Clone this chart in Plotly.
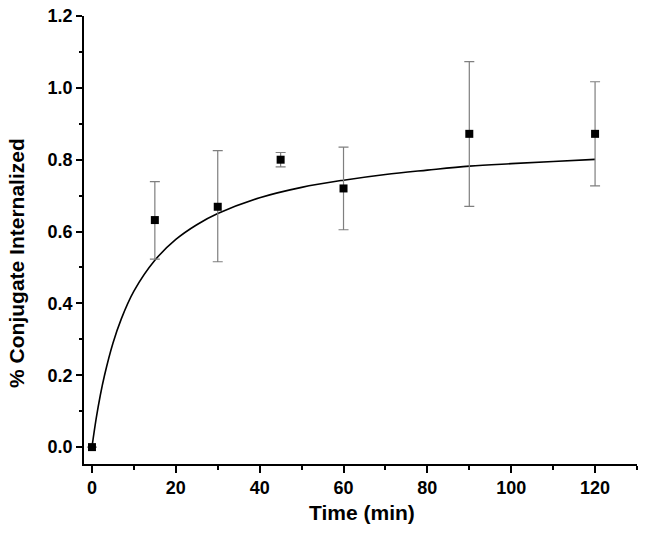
import plotly.graph_objects as go

# Measured data
time_min = [0, 15, 30, 45, 60, 90, 120]
internalized = [0.0, 0.632, 0.669, 0.800, 0.720, 0.872, 0.872]
err_plus = [0.0, 0.107, 0.156, 0.020, 0.115, 0.201, 0.145]
err_minus = [0.0, 0.109, 0.153, 0.020, 0.115, 0.202, 0.145]

# Fitted curve
fit_x = [0, 1, 2, 3, 5, 7, 10, 15, 20, 25, 30, 40, 50, 60, 70, 80, 90, 100, 110, 120]
fit_y = [0.0, 0.079, 0.145, 0.200, 0.289, 0.357, 0.434, 0.520, 0.578, 0.619, 0.650,
         0.694, 0.723, 0.743, 0.759, 0.771, 0.782, 0.789, 0.795, 0.801]

x_ticks = [0, 20, 40, 60, 80, 100, 120]
y_ticks = [0.0, 0.2, 0.4, 0.6, 0.8, 1.0, 1.2]
y_tick_labels = ["0.0", "0.2", "0.4", "0.6", "0.8", "1.0", "1.2"]

FAM = "Liberation Sans, Arial, sans-serif"

fig = go.Figure()
fig.add_trace(go.Scatter(
    x=fit_x, y=fit_y, mode="lines", line=dict(color="black", width=1.6, shape="spline"),
    showlegend=False, hoverinfo="skip"))
fig.add_trace(go.Scatter(
    x=time_min, y=internalized, mode="markers",
    marker=dict(symbol="square", size=8, color="black"),
    error_y=dict(type="data", symmetric=False, array=err_plus, arrayminus=err_minus,
                 color="#7f7f7f", thickness=1.2, width=5),
    showlegend=False))

fig.update_layout(
    width=648, height=535,
    margin=dict(l=84, r=11, t=16, b=71),
    paper_bgcolor="white", plot_bgcolor="white",
    font=dict(family=FAM, color="black"),
    xaxis=dict(
        automargin=False,
        range=[-1.9, 130], tickvals=x_ticks, ticks="outside", ticklen=7, tickwidth=1.5,
        tickcolor="black", showline=True, linecolor="black", linewidth=1.6,
        showgrid=False, zeroline=False,
        minor=dict(dtick=10, tick0=0, ticks="outside", ticklen=4, tickwidth=1.5, tickcolor="black"),
        tickfont=dict(family=FAM, size=18, color="black", weight="bold"),
    ),
    yaxis=dict(
        automargin=False,
        range=[-0.047, 1.2], tickvals=y_ticks, ticktext=y_tick_labels, ticks="outside",
        ticklen=6, tickwidth=1.5, tickcolor="black", showline=True, linecolor="black",
        linewidth=1.6, showgrid=False, zeroline=False,
        minor=dict(dtick=0.1, tick0=0, ticks="outside", ticklen=3, tickwidth=1.5, tickcolor="black"),
        tickfont=dict(family=FAM, size=18, color="black", weight="bold"),
    ),
    annotations=[
        dict(text="<b>Time (min)</b>", xref="paper", yref="paper", x=0.503, y=-0.109,
             xanchor="center", yanchor="middle", showarrow=False,
             font=dict(family=FAM, size=21, color="black")),
        dict(text="<b>% Conjugate Internalized</b>", xref="paper", yref="paper", x=-0.121, y=0.449,
             xanchor="center", yanchor="middle", textangle=-90, showarrow=False,
             font=dict(family=FAM, size=21, color="black")),
    ],
)

fig.write_html("out.html", config={"displayModeBar": False},
               post_script="document.body.style.margin='0';")
